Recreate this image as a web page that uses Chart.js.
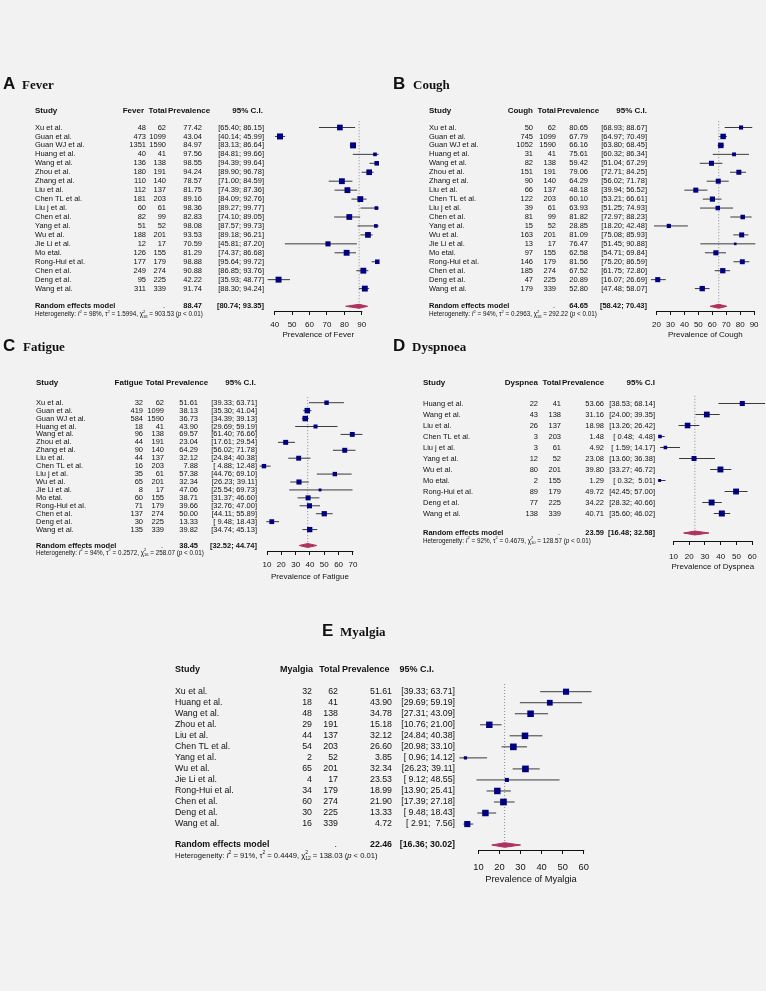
<!DOCTYPE html>
<html lang="en">
<head>
<meta charset="UTF-8">
<title>Prevalence of symptoms - forest plots</title>
<script src="https://cdn.jsdelivr.net/npm/chart.js"></script>
<style>
  html, body { margin: 0; padding: 0; background: #f2f2f2; }
  #wrap { position: relative; width: 766px; height: 991px; }
  #wrap canvas { position: absolute; left: 0; top: 0; }
</style>
</head>
<body>
<div id="wrap">
  <canvas id="fever" width="766" height="991"></canvas>
  <canvas id="cough" width="766" height="991"></canvas>
  <canvas id="fatigue" width="766" height="991"></canvas>
  <canvas id="dyspnea" width="766" height="991"></canvas>
  <canvas id="myalgia" width="766" height="991"></canvas>
</div>
<script>
// ---- data ----
const feverStudies = ['Xu et al.', 'Guan et al.', 'Guan WJ et al.', 'Huang et al.', 'Wang et al.', 'Zhou et al.', 'Zhang et al.', 'Liu et al.', 'Chen TL et al.', 'Liu j et al.', 'Chen et al.', 'Yang et al.', 'Wu et al.', 'Jie Li et al.', 'Mo etal.', 'Rong-Hui et al.', 'Chen et al.', 'Deng et al.', 'Wang et al.'];
const feverEvents = [48, 473, 1351, 40, 136, 180, 110, 112, 181, 60, 82, 51, 188, 12, 126, 177, 249, 95, 311];
const feverTotals = [62, 1099, 1590, 41, 138, 191, 140, 137, 203, 61, 99, 52, 201, 17, 155, 179, 274, 225, 339];
const feverPrev = [77.42, 43.04, 84.97, 97.56, 98.55, 94.24, 78.57, 81.75, 89.16, 98.36, 82.83, 98.08, 93.53, 70.59, 81.29, 98.88, 90.88, 42.22, 91.74];
const feverLower = [65.40, 40.14, 83.13, 84.81, 94.39, 89.90, 71.00, 74.39, 84.09, 89.27, 74.10, 87.57, 89.18, 45.81, 74.37, 95.64, 86.85, 35.93, 88.30];
const feverUpper = [86.15, 45.99, 86.64, 99.66, 99.64, 96.78, 84.59, 87.36, 92.76, 99.77, 89.05, 99.73, 96.21, 87.20, 86.68, 99.72, 93.76, 48.77, 94.24];
const feverPooled = [88.47, 80.74, 93.35];
const feverHet = ['98%', '1.5994', '18', '903.53'];
const feverTicks = [40, 50, 60, 70, 80, 90];

const coughStudies = ['Xu et al.', 'Guan et al.', 'Guan WJ et al.', 'Huang et al.', 'Wang et al.', 'Zhou et al.', 'Zhang et al.', 'Liu et al.', 'Chen TL et al.', 'Liu j et al.', 'Chen et al.', 'Yang et al.', 'Wu et al.', 'Jie Li et al.', 'Mo etal.', 'Rong-Hui et al.', 'Chen et al.', 'Deng et al.', 'Wang et al.'];
const coughEvents = [50, 745, 1052, 31, 82, 151, 90, 66, 122, 39, 81, 15, 163, 13, 97, 146, 185, 47, 179];
const coughTotals = [62, 1099, 1590, 41, 138, 191, 140, 137, 203, 61, 99, 52, 201, 17, 155, 179, 274, 225, 339];
const coughPrev = [80.65, 67.79, 66.16, 75.61, 59.42, 79.06, 64.29, 48.18, 60.10, 63.93, 81.82, 28.85, 81.09, 76.47, 62.58, 81.56, 67.52, 20.89, 52.80];
const coughLower = [68.93, 64.97, 63.80, 60.32, 51.04, 72.71, 56.02, 39.94, 53.21, 51.25, 72.97, 18.20, 75.08, 51.45, 54.71, 75.20, 61.75, 16.07, 47.48];
const coughUpper = [88.67, 70.49, 68.45, 86.34, 67.29, 84.25, 71.78, 56.52, 66.61, 74.93, 88.23, 42.48, 85.93, 90.88, 69.84, 86.59, 72.80, 26.69, 58.07];
const coughPooled = [64.65, 58.42, 70.43];
const coughHet = ['94%', '0.2963', '18', '292.22'];
const coughTicks = [20, 30, 40, 50, 60, 70, 80, 90];

const fatigueStudies = ['Xu et al.', 'Guan et al.', 'Guan WJ et al.', 'Huang et al.', 'Wang et al.', 'Zhou et al.', 'Zhang et al.', 'Liu et al.', 'Chen TL et al.', 'Liu j et al.', 'Wu et al.', 'Jie Li et al.', 'Mo etal.', 'Rong-Hui et al.', 'Chen et al.', 'Deng et al.', 'Wang et al.'];
const fatigueEvents = [32, 419, 584, 18, 96, 44, 90, 44, 16, 35, 65, 8, 60, 71, 137, 30, 135];
const fatigueTotals = [62, 1099, 1590, 41, 138, 191, 140, 137, 203, 61, 201, 17, 155, 179, 274, 225, 339];
const fatiguePrev = [51.61, 38.13, 36.73, 43.90, 69.57, 23.04, 64.29, 32.12, 7.88, 57.38, 32.34, 47.06, 38.71, 39.66, 50.00, 13.33, 39.82];
const fatigueLower = [39.33, 35.30, 34.39, 29.69, 61.40, 17.61, 56.02, 24.84, 4.88, 44.76, 26.23, 25.54, 31.37, 32.76, 44.11, 9.48, 34.74];
const fatigueUpper = [63.71, 41.04, 39.13, 59.19, 76.66, 29.54, 71.78, 40.38, 12.48, 69.10, 39.11, 69.73, 46.60, 47.00, 55.89, 18.43, 45.13];
const fatiguePooled = [38.45, 32.52, 44.74];
const fatigueHet = ['94%', '0.2572', '16', '258.07'];
const fatigueTicks = [10, 20, 30, 40, 50, 60, 70];

const dyspneaStudies = ['Huang et al.', 'Wang et al.', 'Liu et al.', 'Chen TL et al.', 'Liu j et al.', 'Yang et al.', 'Wu et al.', 'Mo etal.', 'Rong-Hui et al.', 'Deng et al.', 'Wang et al.'];
const dyspneaEvents = [22, 43, 26, 3, 3, 12, 80, 2, 89, 77, 138];
const dyspneaTotals = [41, 138, 137, 203, 61, 52, 201, 155, 179, 225, 339];
const dyspneaPrev = [53.66, 31.16, 18.98, 1.48, 4.92, 23.08, 39.80, 1.29, 49.72, 34.22, 40.71];
const dyspneaLower = [38.53, 24.00, 13.26, 0.48, 1.59, 13.60, 33.27, 0.32, 42.45, 28.32, 35.60];
const dyspneaUpper = [68.14, 39.35, 26.42, 4.48, 14.17, 36.38, 46.72, 5.01, 57.00, 40.66, 46.02];
const dyspneaPooled = [23.59, 16.48, 32.58];
const dyspneaHet = ['92%', '0.4679', '10', '128.57'];
const dyspneaTicks = [10, 20, 30, 40, 50, 60];

const myalgiaStudies = ['Xu et al.', 'Huang et al.', 'Wang et al.', 'Zhou et al.', 'Liu et al.', 'Chen TL et al.', 'Yang et al.', 'Wu et al.', 'Jie Li et al.', 'Rong-Hui et al.', 'Chen et al.', 'Deng et al.', 'Wang et al.'];
const myalgiaEvents = [32, 18, 48, 29, 44, 54, 2, 65, 4, 34, 60, 30, 16];
const myalgiaTotals = [62, 41, 138, 191, 137, 203, 52, 201, 17, 179, 274, 225, 339];
const myalgiaPrev = [51.61, 43.90, 34.78, 15.18, 32.12, 26.60, 3.85, 32.34, 23.53, 18.99, 21.90, 13.33, 4.72];
const myalgiaLower = [39.33, 29.69, 27.31, 10.76, 24.84, 20.98, 0.96, 26.23, 9.12, 13.90, 17.39, 9.48, 2.91];
const myalgiaUpper = [63.71, 59.19, 43.09, 21.00, 40.38, 33.10, 14.12, 39.11, 48.55, 25.41, 27.18, 18.43, 7.56];
const myalgiaPooled = [22.46, 16.36, 30.02];
const myalgiaHet = ['91%', '0.4449', '12', '138.03'];
const myalgiaTicks = [10, 20, 30, 40, 50, 60];

// ---- page geometry (pixels) ----
const W = 766, H = 991;
const FONT = '"Liberation Sans", Arial, Helvetica, sans-serif';
const SERIF = '"Liberation Serif", "Times New Roman", serif';

const smallText = { rowSize: 7.5, hdrSize: 8, hetSize: 6.3, tickSize: 8, axisTitleSize: 8, letterSize: 17, nameSize: 13, diamondH: 2 };

const panels = [
  { id: 'fever', letter: 'A', name: 'Fever', col: 'Fever', ciHead: '95% C.I.', axisTitle: 'Prevalence of Fever',
    studies: feverStudies, events: feverEvents, totals: feverTotals, prev: feverPrev, lower: feverLower, upper: feverUpper,
    pooled: feverPooled, het: feverHet, ticks: feverTicks,
    L: Object.assign({}, smallText, { letterX: 3, nameX: 22, titleY: 89,
      studyX: 35, countR: 146, totalR: 166, prevR: 202, ciR: 264, hCountR: 144, hTotalR: 167, hPrevL: 168, hCiR: 263,
      hdrY: 110.5, row0: 127.5, step: 8.95, reY: 306.3, hetY: 314.5, axisY: 311, labelY: 325, axisTitleY: 335,
      xLeft: 274.7, xRight: 361.8, maxSide: 6 }) },
  { id: 'cough', letter: 'B', name: 'Cough', col: 'Cough', ciHead: '95% C.I.', axisTitle: 'Prevalence of Cough',
    studies: coughStudies, events: coughEvents, totals: coughTotals, prev: coughPrev, lower: coughLower, upper: coughUpper,
    pooled: coughPooled, het: coughHet, ticks: coughTicks,
    L: Object.assign({}, smallText, { letterX: 393, nameX: 413, titleY: 89,
      studyX: 429, countR: 533, totalR: 556, prevR: 588, ciR: 647, hCountR: 533, hTotalR: 556, hPrevL: 557, hCiR: 647,
      hdrY: 110.5, row0: 127.5, step: 8.95, reY: 306.3, hetY: 314.5, axisY: 311, labelY: 325, axisTitleY: 335,
      xLeft: 656.5, xRight: 754.1, maxSide: 5.5 }) },
  { id: 'fatigue', letter: 'C', name: 'Fatigue', col: 'Fatigue', ciHead: '95% C.I.', axisTitle: 'Prevalence of Fatigue',
    studies: fatigueStudies, events: fatigueEvents, totals: fatigueTotals, prev: fatiguePrev, lower: fatigueLower, upper: fatigueUpper,
    pooled: fatiguePooled, het: fatigueHet, ticks: fatigueTicks,
    L: Object.assign({}, smallText, { letterX: 3, nameX: 23, titleY: 351,
      studyX: 36, countR: 143, totalR: 164, prevR: 198, ciR: 257, hCountR: 143, hTotalR: 164, hPrevL: 166, hCiR: 256,
      hdrY: 383, row0: 402.7, step: 7.93, reY: 545.5, hetY: 553, axisY: 551, labelY: 565, axisTitleY: 576.5,
      xLeft: 267, xRight: 352.9, maxSide: 5.5 }) },
  { id: 'dyspnea', letter: 'D', name: 'Dyspnoea', col: 'Dyspnea', ciHead: '95% C.I', axisTitle: 'Prevalence of Dyspnea',
    studies: dyspneaStudies, events: dyspneaEvents, totals: dyspneaTotals, prev: dyspneaPrev, lower: dyspneaLower, upper: dyspneaUpper,
    pooled: dyspneaPooled, het: dyspneaHet, ticks: dyspneaTicks,
    L: Object.assign({}, smallText, { letterX: 393, nameX: 412, titleY: 351,
      studyX: 423, countR: 538, totalR: 561, prevR: 604, ciR: 655, hCountR: 538, hTotalR: 561, hPrevL: 562, hCiR: 655,
      hdrY: 382.7, row0: 403.5, step: 11.0, reY: 533, hetY: 541, axisY: 541, labelY: 556.7, axisTitleY: 567,
      xLeft: 673.4, xRight: 752.3, maxSide: 6 }) },
  { id: 'myalgia', letter: 'E', name: 'Myalgia', col: 'Myalgia', ciHead: '95% C.I.', axisTitle: 'Prevalence of Myalgia',
    studies: myalgiaStudies, events: myalgiaEvents, totals: myalgiaTotals, prev: myalgiaPrev, lower: myalgiaLower, upper: myalgiaUpper,
    pooled: myalgiaPooled, het: myalgiaHet, ticks: myalgiaTicks,
    L: Object.assign({}, smallText, { rowSize: 8.8, hdrSize: 9, hetSize: 7.6, tickSize: 9.3, axisTitleSize: 9.3, diamondH: 2.3,
      letterX: 322, nameX: 340, titleY: 636,
      studyX: 175, countR: 312, totalR: 338, prevR: 392, ciR: 455, hCountR: 313, hTotalR: 340, hPrevL: 342, hCiR: 434,
      hdrY: 669.5, row0: 691.7, step: 11.03, reY: 845, hetY: 855.7, axisY: 850, labelY: 867, axisTitleY: 879,
      xLeft: 478.4, xRight: 583.7, maxSide: 6.7 }) }
];

function fmtCI(lo, hi) {
  return '[' + lo.toFixed(2).padStart(5, ' ') + '; ' + hi.toFixed(2).padStart(5, ' ') + ']';
}

function drawHet(ctx, x, y, size, het) {
  const reg = size + 'px ' + FONT, ital = 'italic ' + size + 'px ' + FONT, small = (size * 0.65) + 'px ' + FONT;
  let cx = x;
  const put = (t, font, dy) => { ctx.font = font; ctx.fillText(t, cx, y + (dy || 0)); cx += ctx.measureText(t).width; };
  put('Heterogeneity: ', reg);
  put('I', ital);
  put('2', small, -size * 0.45);
  put(' = ' + het[0] + ', ', reg);
  put('\u03C4', reg);
  put('2', small, -size * 0.45);
  put(' = ' + het[1] + ', ', reg);
  put('\u03C7', reg);
  ctx.font = small;
  const w = Math.max(ctx.measureText('2').width, ctx.measureText(het[2]).width);
  ctx.fillText('2', cx, y - size * 0.45);
  ctx.fillText(het[2], cx, y + size * 0.35);
  cx += w;
  put(' = ' + het[3] + ' (', reg);
  put('p', ital);
  put(' < 0.01)', reg);
}

function tablePlugin(p) {
  const L = p.L;
  return {
    id: 'forestTable',
    afterDraw(chart) {
      const ctx = chart.ctx, ys = chart.scales.y, xs = chart.scales.x;
      const txt = (t, x, y, align) => { ctx.textAlign = align; ctx.fillText(t, x, y); };
      ctx.save();
      // x axis line spans the tick range only, title centred under it
      const x1 = xs.getPixelForValue(p.ticks[0]);
      const x2 = xs.getPixelForValue(p.ticks[p.ticks.length - 1]);
      const ay = Math.round(xs.top) + 0.5;
      ctx.strokeStyle = '#111';
      ctx.lineWidth = 1;
      ctx.beginPath();
      ctx.moveTo(x1, ay);
      ctx.lineTo(x2 + 0.5, ay);
      ctx.stroke();
      ctx.fillStyle = '#111';
      ctx.textBaseline = 'middle';
      ctx.font = L.axisTitleSize + 'px ' + FONT;
      txt(p.axisTitle, (x1 + x2) / 2, L.axisTitleY, 'center');
      // panel title
      ctx.textBaseline = 'alphabetic';
      ctx.font = 'bold ' + L.letterSize + 'px ' + FONT;
      txt(p.letter, L.letterX, L.titleY, 'left');
      ctx.font = 'bold ' + L.nameSize + 'px ' + SERIF;
      txt(p.name, L.nameX, L.titleY, 'left');
      // header
      ctx.textBaseline = 'middle';
      ctx.font = 'bold ' + L.hdrSize + 'px ' + FONT;
      txt('Study', L.studyX, L.hdrY, 'left');
      txt(p.col, L.hCountR, L.hdrY, 'right');
      txt('Total', L.hTotalR, L.hdrY, 'right');
      txt('Prevalence', L.hPrevL, L.hdrY, 'left');
      txt(p.ciHead, L.hCiR, L.hdrY, 'right');
      // study rows
      ctx.font = L.rowSize + 'px ' + FONT;
      p.studies.forEach((s, i) => {
        const y = ys.getPixelForValue(i);
        txt(s, L.studyX, y, 'left');
        txt(String(p.events[i]), L.countR, y, 'right');
        txt(String(p.totals[i]), L.totalR, y, 'right');
        txt(p.prev[i].toFixed(2), L.prevR, y, 'right');
        txt(fmtCI(p.lower[i], p.upper[i]), L.ciR, y, 'right');
      });
      // pooled row
      const ry = ys.getPixelForValue((L.reY - L.row0) / L.step);
      txt('.', L.totalR - 1, ry, 'right');
      ctx.font = 'bold ' + L.rowSize + 'px ' + FONT;
      txt('Random effects model', L.studyX, ry, 'left');
      txt(p.pooled[0].toFixed(2), L.prevR, ry, 'right');
      txt(fmtCI(p.pooled[1], p.pooled[2]), L.ciR, ry, 'right');
      ctx.textAlign = 'left';
      drawHet(ctx, L.studyX, L.hetY, L.hetSize, p.het);
      ctx.restore();
    }
  };
}

function makePanel(p) {
  const L = p.L;
  const yMin = (L.hdrY - L.row0) / L.step;
  const yMax = (L.axisY - L.row0) / L.step;
  const reVal = (L.reY - L.row0) / L.step;
  // square side follows the random-effects weight of each study
  const tau2 = parseFloat(p.het[1]);
  const wts = p.events.map((e, i) => 1 / (1 / e + 1 / (p.totals[i] - e) + tau2));
  const wMax = Math.max(...wts);
  const radii = wts.map(v => L.maxSide * v / wMax / Math.SQRT2);
  const h = L.diamondH / L.step;
  const [est, lo, hi] = p.pooled;

  // the plotting area is wider than the tick range so every mark stays inside it
  const tFirst = p.ticks[0], tLast = p.ticks[p.ticks.length - 1];
  const ppu = (L.xRight - L.xLeft) / (tLast - tFirst);
  const xMin = Math.min(tFirst, ...p.lower) - 1;
  let xMax = Math.max(tLast, ...p.upper) + 1;
  if (L.xRight + (xMax - tLast) * ppu > W - 0.5) xMax = tLast + (W - 0.5 - L.xRight) / ppu;
  const areaLeft = L.xLeft - (tFirst - xMin) * ppu;
  const areaRight = L.xRight + (xMax - tLast) * ppu;

  const datasets = [
    { type: 'scatter', data: p.prev.map((v, i) => ({ x: v, y: i })), pointStyle: 'rect', pointRadius: radii,
      backgroundColor: '#000080', pointBackgroundColor: '#000080', borderWidth: 0, pointBorderWidth: 0, order: 0, clip: false },
    { type: 'line', data: [{ x: lo, y: reVal }, { x: est, y: reVal - h }, { x: hi, y: reVal }, { x: est, y: reVal + h }, { x: lo, y: reVal }],
      fill: 'shape', backgroundColor: '#b03060', borderColor: '#b03060', borderWidth: 1, pointRadius: 0, tension: 0, order: 1, clip: false },
    ...p.studies.map((s, i) => ({ type: 'line', data: [{ x: p.lower[i], y: i }, { x: p.upper[i], y: i }],
      borderColor: '#3a3a3a', borderWidth: 1, pointRadius: 0, order: 2, clip: false })),
    { type: 'line', data: [{ x: est, y: -0.7 }, { x: est, y: reVal }], borderColor: '#8a8a8a', borderWidth: 1,
      borderDash: [1, 2], pointRadius: 0, order: 3, clip: false }
  ];

  const tickLen = 4;
  const axisH = L.axisTitleY - L.axisY + L.axisTitleSize * 0.6;
  const tickPad = L.labelY - L.axisY - tickLen - L.tickSize * 0.6;

  new Chart(document.getElementById(p.id), {
    type: 'scatter',
    data: { datasets },
    options: {
      responsive: false,
      animation: false,
      events: [],
      layout: { autoPadding: false, padding: { left: areaLeft, right: W - areaRight, top: L.hdrY, bottom: H - L.axisY - axisH } },
      plugins: { legend: { display: false }, tooltip: { enabled: false } },
      scales: {
        x: {
          type: 'linear', position: 'bottom',
          min: xMin, max: xMax,
          afterBuildTicks: s => { s.ticks = p.ticks.map(v => ({ value: v })); },
          afterFit: s => { s.height = axisH; },
          ticks: { color: '#111', padding: tickPad, maxRotation: 0, autoSkip: false, font: { family: FONT, size: L.tickSize } },
          grid: { drawOnChartArea: false, drawTicks: true, tickLength: tickLen, color: '#111', lineWidth: 1 },
          border: { display: false },
          title: { display: false }
        },
        y: { type: 'linear', display: false, reverse: true, min: yMin, max: yMax }
      }
    },
    plugins: [tablePlugin(p)]
  });
}

panels.forEach(makePanel);
</script>
</body>
</html>
